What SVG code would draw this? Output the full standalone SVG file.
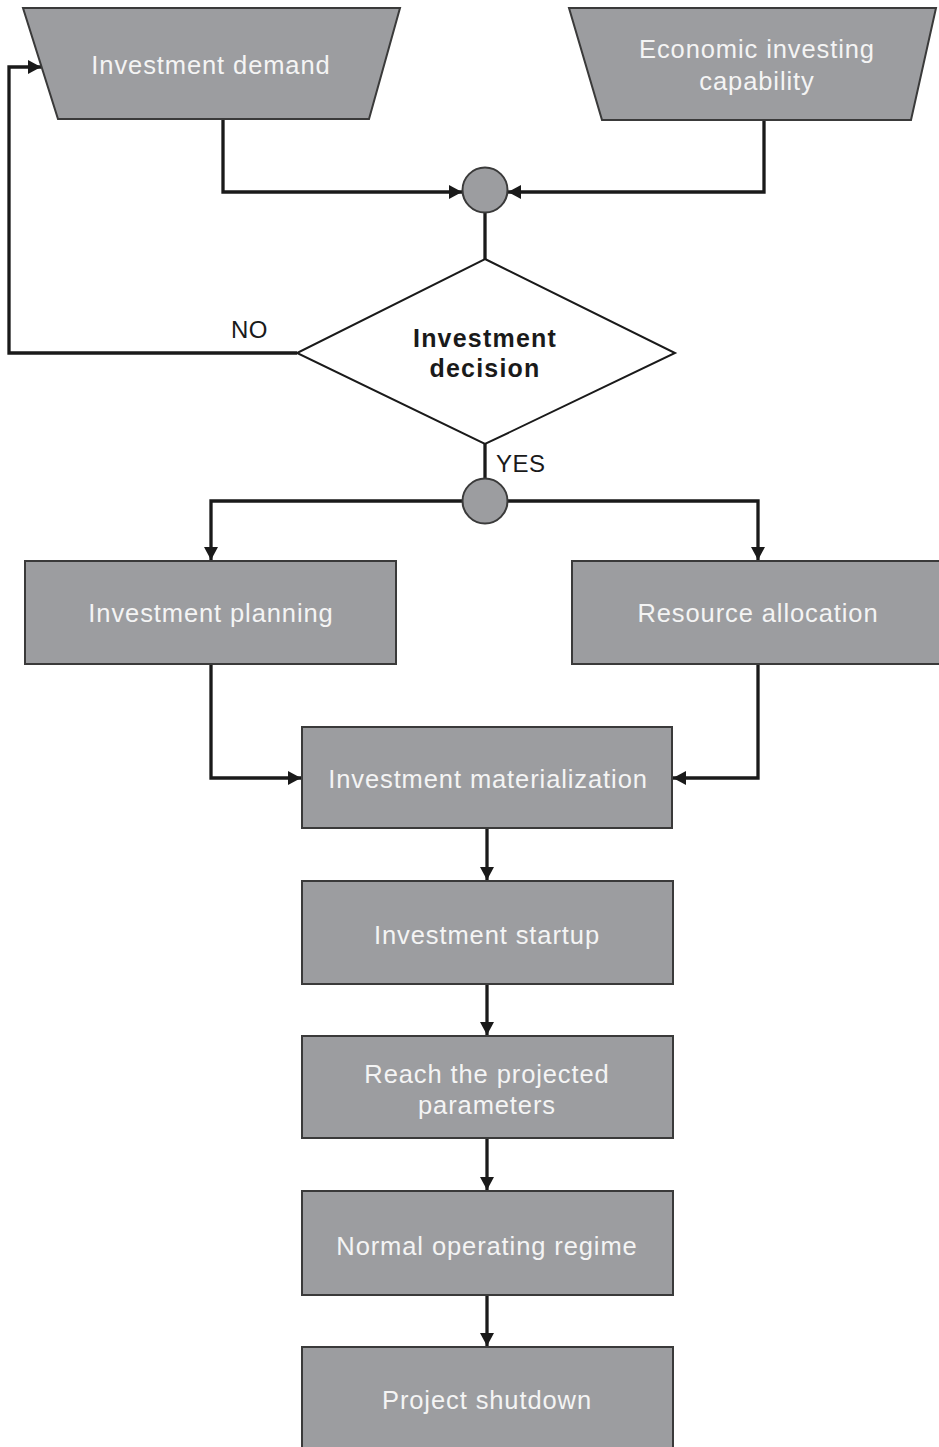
<svg xmlns="http://www.w3.org/2000/svg" width="939" height="1447" viewBox="0 0 939 1447">
<style>
.shape{fill:#9c9da0;stroke:#3a3a3a;stroke-width:2}
.lbl{font-family:"Liberation Sans",Arial,sans-serif;font-size:25.5px;letter-spacing:0.9px;fill:#f4f4f4;text-anchor:middle}
.dec{font-family:"Liberation Sans",Arial,sans-serif;font-size:25px;letter-spacing:1.2px;font-weight:bold;fill:#1a1a1a;text-anchor:middle}
.tag{font-family:"Liberation Sans",Arial,sans-serif;font-size:24px;letter-spacing:0.5px;fill:#1a1a1a}
.conn{fill:none;stroke:#1a1a1a;stroke-width:3.3}
</style>
<defs>
<marker id="arr" markerUnits="userSpaceOnUse" markerWidth="14" markerHeight="14" refX="13" refY="7" orient="auto">
<path d="M0,0 L13,7 L0,14 z" fill="#1a1a1a"/>
</marker>
</defs>
<rect width="939" height="1447" fill="#ffffff"/>
<g id="connectors">
<path class="conn" d="M223 119 V192 H462" marker-end="url(#arr)"/>
<path class="conn" d="M764 120 V192 H508" marker-end="url(#arr)"/>
<path class="conn" d="M485 213 V259"/>
<path class="conn" d="M297 353 H9 V67 H41" marker-end="url(#arr)"/>
<path class="conn" d="M485 444 V479"/>
<path class="conn" d="M463 501 H211 V560" marker-end="url(#arr)"/>
<path class="conn" d="M507 501 H758 V560" marker-end="url(#arr)"/>
<path class="conn" d="M211 664 V778 H301" marker-end="url(#arr)"/>
<path class="conn" d="M758 664 V778 H673" marker-end="url(#arr)"/>
<path class="conn" d="M487 828 V880" marker-end="url(#arr)"/>
<path class="conn" d="M487 984 V1035" marker-end="url(#arr)"/>
<path class="conn" d="M487 1138 V1190" marker-end="url(#arr)"/>
<path class="conn" d="M487 1295 V1346" marker-end="url(#arr)"/>
</g>
<g id="investment-demand">
<polygon class="shape" points="23,8 400,8 369,119 58,119"/>
<text class="lbl" x="211" y="74">Investment demand</text>
</g>
<g id="economic-capability">
<polygon class="shape" points="569,8 936,8 911,120 602,120"/>
<text class="lbl" x="757" y="58">Economic investing</text>
<text class="lbl" x="757" y="90">capability</text>
</g>
<g id="junction-1">
<circle class="shape" cx="485" cy="190" r="22.5"/>
</g>
<g id="investment-decision">
<polygon points="485,259 675,353 485,444 297,353" fill="#ffffff" stroke="#1a1a1a" stroke-width="2"/>
<text class="dec" x="485" y="347">Investment</text>
<text class="dec" x="485" y="377">decision</text>
</g>
<text class="tag" x="231" y="338">NO</text>
<text class="tag" x="496" y="472">YES</text>
<g id="junction-2">
<circle class="shape" cx="485" cy="501" r="22.5"/>
</g>
<g id="investment-planning">
<rect class="shape" x="25" y="561" width="371" height="103"/>
<text class="lbl" x="211" y="622">Investment planning</text>
</g>
<g id="resource-allocation">
<rect class="shape" x="572" y="561" width="370" height="103"/>
<text class="lbl" x="758" y="622">Resource allocation</text>
</g>
<g id="investment-materialization">
<rect class="shape" x="302" y="727" width="370" height="101"/>
<text class="lbl" x="488" y="788">Investment materialization</text>
</g>
<g id="investment-startup">
<rect class="shape" x="302" y="881" width="371" height="103"/>
<text class="lbl" x="487" y="944">Investment startup</text>
</g>
<g id="reach-parameters">
<rect class="shape" x="302" y="1036" width="371" height="102"/>
<text class="lbl" x="487" y="1083">Reach the projected</text>
<text class="lbl" x="487" y="1114">parameters</text>
</g>
<g id="normal-operating">
<rect class="shape" x="302" y="1191" width="371" height="104"/>
<text class="lbl" x="487" y="1255">Normal operating regime</text>
</g>
<g id="project-shutdown">
<rect class="shape" x="302" y="1347" width="371" height="104"/>
<text class="lbl" x="487" y="1409">Project shutdown</text>
</g>
</svg>
